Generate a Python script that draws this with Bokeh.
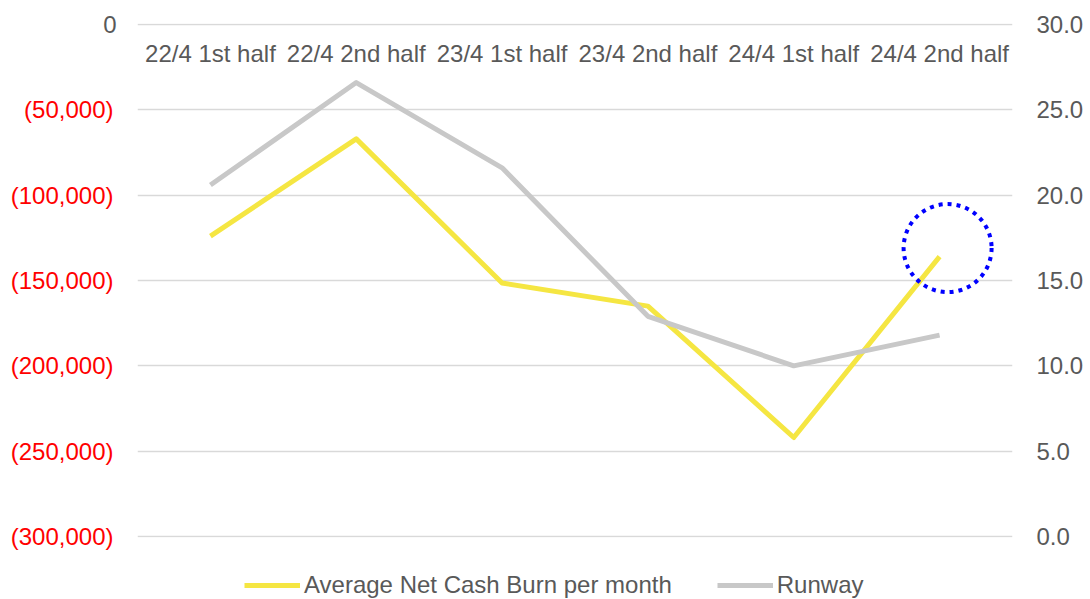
from bokeh.plotting import figure
from bokeh.layouts import column
from bokeh.models import (FactorRange, Range1d, LinearAxis, FixedTicker, CustomJSTickFormatter,
                          Legend, LegendItem, ColumnDataSource)
from bokeh.transform import dodge
from bokeh.core.properties import value
from bokeh.embed import file_html
from bokeh.resources import INLINE

categories = ["22/4 1st half", "22/4 2nd half", "23/4 1st half",
              "23/4 2nd half", "24/4 1st half", "24/4 2nd half"]
net_cash_burn = [-124000, -67000, -151500, -165000, -242000, -136000]
runway = [20.6, 26.6, 21.6, 12.9, 10.0, 11.8]
left_ticks = [-300000, -250000, -200000, -150000, -100000, -50000, 0]
right_ticks = [0, 5, 10, 15, 20, 25, 30]
series_names = ["Average Net Cash Burn per month", "Runway"]
highlight_category = ["24/4 2nd half"]
highlight_value = [-131000]

FONT = "Liberation Sans"
FS = "24px"
GRAY_TXT = "#595959"
YELLOW = "#F5E642"
GRAY_LINE = "#C8C8C8"

p = figure(width=1090, height=571, x_range=FactorRange(factors=categories, range_padding=0),
           y_range=Range1d(-300600, 600), output_backend="svg", toolbar_location=None,
           x_axis_location=None, y_axis_location=None, min_border_left=137, min_border_right=78,
           min_border_top=23, min_border_bottom=34)
p.outline_line_color = None
p.background_fill_color = "white"
p.border_fill_color = "white"
p.extra_y_ranges = {"runway": Range1d(-0.06, 30.06)}


def style(ax, color, standoff):
    ax.major_label_text_color = color
    ax.major_label_text_font = FONT
    ax.major_label_text_font_size = FS
    ax.axis_line_color = None
    ax.major_tick_line_color = None
    ax.minor_tick_line_color = None
    ax.major_tick_out = 0
    ax.major_tick_in = 0
    ax.minor_tick_out = 0
    ax.minor_tick_in = 0
    ax.major_label_standoff = standoff


# inner left axis: only the zero label (gray)
zero_ax = LinearAxis(ticker=FixedTicker(ticks=[0]),
                     formatter=CustomJSTickFormatter(code="return '0';"))
style(zero_ax, GRAY_TXT, 21)
p.add_layout(zero_ax, "left")

# outer left axis: negative values in red, with parentheses
neg_ax = LinearAxis(ticker=FixedTicker(ticks=left_ticks[:-1]),
                    formatter=CustomJSTickFormatter(code="""
    return "(" + Math.abs(tick).toLocaleString('en-US') + ")";
"""))
style(neg_ax, "#FF0000", -13)
p.add_layout(neg_ax, "left")

# right axis
ra = LinearAxis(y_range_name="runway", ticker=FixedTicker(ticks=right_ticks),
                formatter=CustomJSTickFormatter(code="return tick.toFixed(1);"))
style(ra, GRAY_TXT, 24)
p.add_layout(ra, "right")

p.ygrid.ticker = FixedTicker(ticks=left_ticks)
p.ygrid.grid_line_color = "#D9D9D9"
p.ygrid.grid_line_width = 1.5
p.xgrid.grid_line_color = None

# category labels beneath the 0 line
lab_src = ColumnDataSource(dict(x=categories, y=[0] * len(categories), t=categories))
p.text(x="x", y="y", text="t", source=lab_src, text_align="center", text_baseline="middle",
       y_offset=29, text_color=GRAY_TXT, text_font=value(FONT), text_font_size=value(FS))

src = ColumnDataSource(dict(x=categories, burn=net_cash_burn, run=runway))
p.line(x="x", y="burn", source=src, line_color=YELLOW, line_width=5, line_join="round")
p.line(x="x", y="run", source=src, y_range_name="runway", line_color=GRAY_LINE,
       line_width=5, line_join="round")

hsrc = ColumnDataSource(dict(x=highlight_category, y=highlight_value))
p.circle(x=dodge("x", 0.055, range=p.x_range), y="y", source=hsrc, radius=44,
         radius_units="screen", fill_alpha=0, line_color="#0000FF", line_width=4,
         line_dash="4 5")

# legend strip below the chart (frame aligned with the chart above)
lp = figure(width=1090, height=28, x_range=Range1d(0, 1), y_range=Range1d(0, 1),
            output_backend="svg", toolbar_location=None, x_axis_location=None,
            y_axis_location=None, min_border=0)
lp.outline_line_color = None
lp.xgrid.visible = False
lp.ygrid.visible = False
lg1 = lp.line(x=[-2, -1], y=[-2, -2], line_color=YELLOW, line_width=5)
lg2 = lp.line(x=[-2, -1], y=[-2, -2], line_color=GRAY_LINE, line_width=5)
legend = Legend(items=[LegendItem(label=series_names[0], renderers=[lg1]),
                       LegendItem(label=series_names[1], renderers=[lg2])],
                orientation="horizontal", location=(107, 0), border_line_color=None,
                background_fill_alpha=0, padding=0, margin=0, spacing=45,
                glyph_width=56, label_standoff=4, label_text_font=FONT,
                label_text_font_size=FS, label_text_color=GRAY_TXT)
lp.add_layout(legend, "center")

open("out.html", "w").write(file_html(column(p, lp, spacing=0), INLINE))
